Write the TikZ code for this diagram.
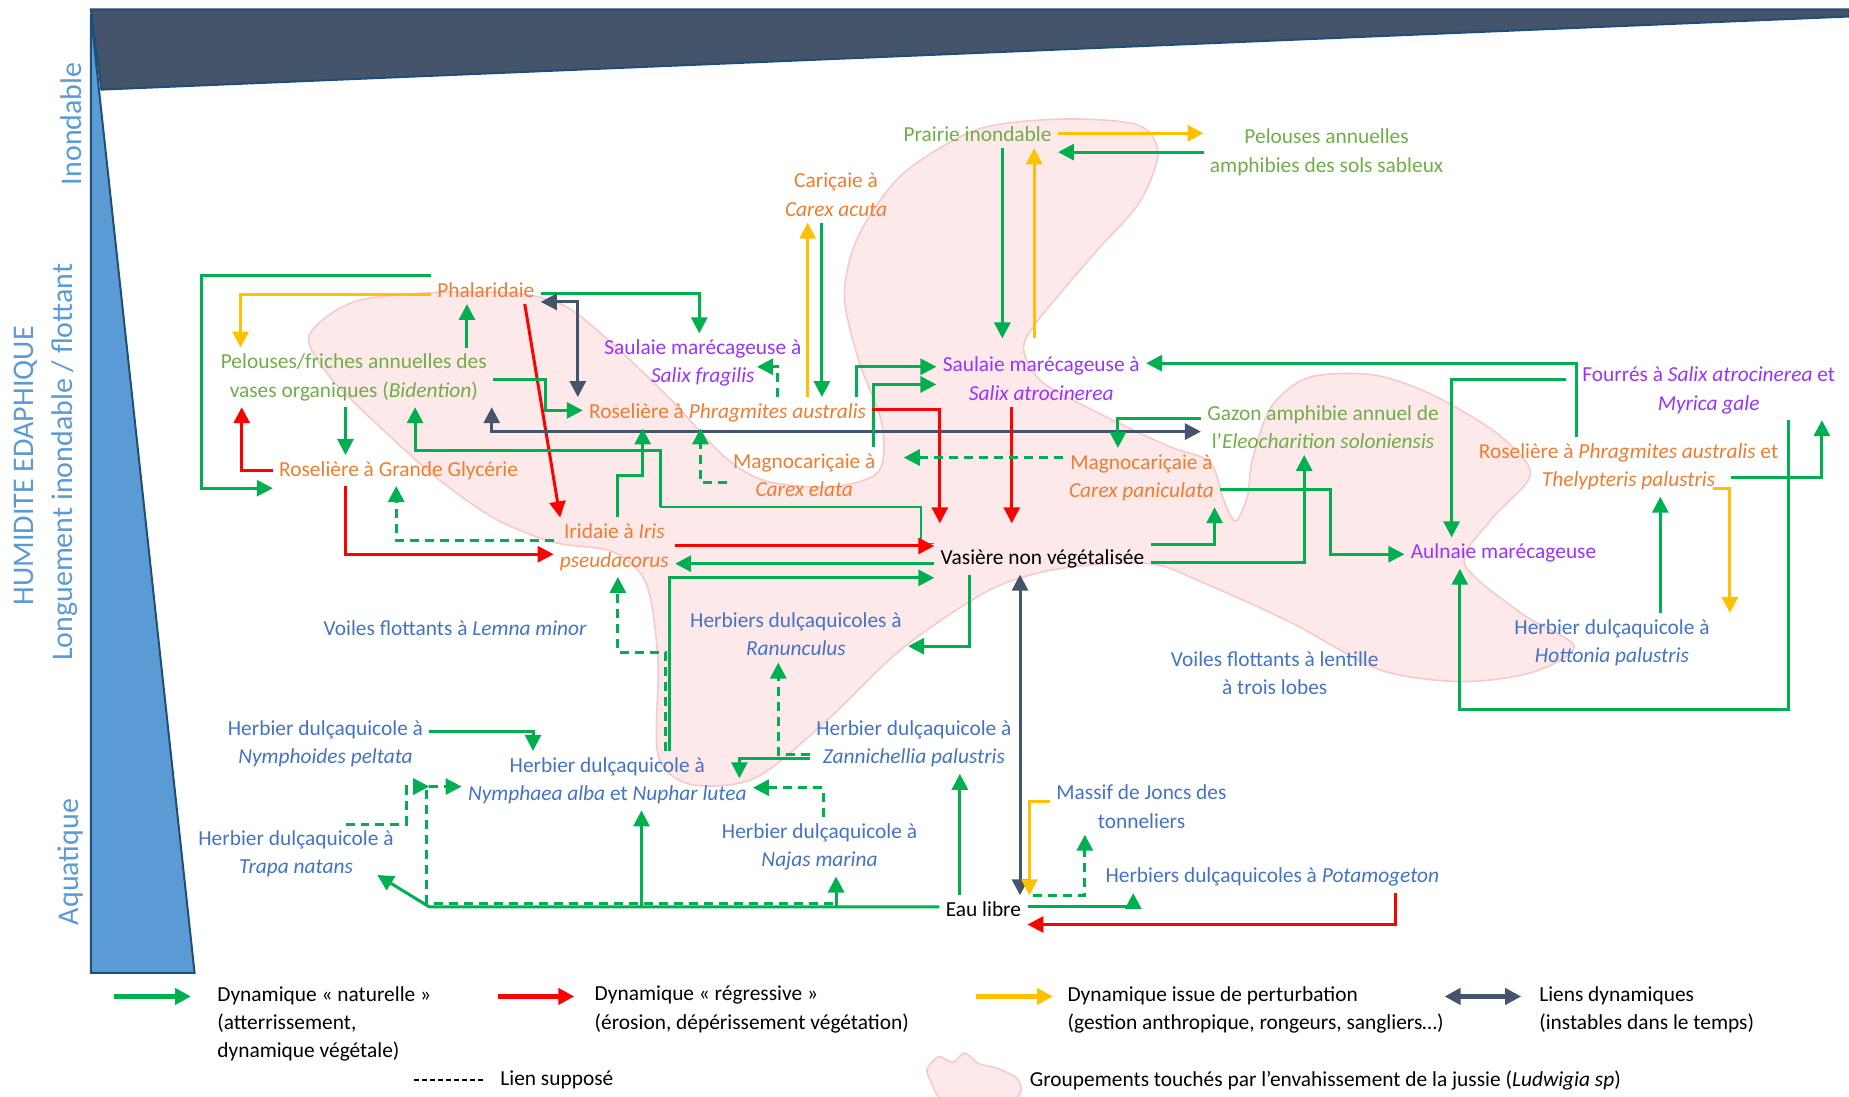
\documentclass[tikz,border=0pt]{standalone}
\usepackage{fontspec}
\setmainfont{Carlito}
\usetikzlibrary{arrows.meta}

\definecolor{cVert}{HTML}{00B050}
\definecolor{cRouge}{HTML}{FF0000}
\definecolor{cJaune}{HTML}{FFC000}
\definecolor{cGris}{HTML}{44546A}
\definecolor{cOr}{HTML}{ED7D31}
\definecolor{cVe}{HTML}{70AD47}
\definecolor{cVi}{HTML}{9933FF}
\definecolor{cBl}{HTML}{4472C4}
\definecolor{cAxe}{HTML}{5B9BD5}
\definecolor{cAxeBord}{HTML}{1F4E79}
\definecolor{cRose}{HTML}{FDE9E9}
\definecolor{cRoseBord}{HTML}{F7C9C9}

\begin{document}
\begin{tikzpicture}[x=0.59pt, y=-0.59pt, font=\fontsize{10.7}{14.2}\selectfont,
  grp/.style={align=center, inner sep=3pt},
  gOr/.style={grp, text=cOr},
  gVe/.style={grp, text=cVe},
  gVi/.style={grp, text=cVi},
  gBl/.style={grp, text=cBl},
  gNo/.style={grp, text=black},
  axetxt/.style={text=cAxe, rotate=90, font=\fontsize{15}{18}\selectfont},
  pointe/.style={-{Triangle[length=8pt,width=8pt]}},
  nat/.style={draw=cVert, line width=1.5pt, pointe},
  reg/.style={draw=cRouge, line width=1.5pt, pointe},
  pert/.style={draw=cJaune, line width=1.5pt, pointe},
  suppo/.style={draw=cVert, line width=1.5pt, dash pattern=on 4.5pt off 3pt, pointe},
  lien/.style={draw=cGris, line width=1.5pt, {Triangle[length=8pt,width=8pt]}-{Triangle[length=8pt,width=8pt]}},
  lgd/.style={anchor=north west, align=left, inner sep=0pt},
  big/.style={line width=2.2pt}]
\useasboundingbox (0,0) rectangle (1568,930);

% axes
\filldraw[fill=cAxe, draw=cAxeBord, line width=1pt] (77,12) -- (165,825) -- (77,825) -- cycle;
\filldraw[fill=cGris, draw=cAxeBord, line width=1pt] (77,8) -- (1568,8) -- (1568,14) -- (86,76) -- cycle;
\node[axetxt] (ino) at (60,105) {Inondable};
\node[axetxt] (lon) at (55,392) {Longuement inondable / flottant};
\node[axetxt] (hum) at (22,395) {HUMIDITE EDAPHIQUE};
\node[axetxt] (aqu) at (60,731) {Aquatique};

% zone jussie
\filldraw[fill=cRose, draw=cRoseBord, line width=0.8pt] plot[smooth cycle, tension=0.5] coordinates {
  (262,285) (300,256) (370,248) (440,249) (480,260) (520,292) (570,340) (615,388) (650,408)
  (705,413) (745,400) (748,360) (728,305) (716,250) (728,200) (765,148) (828,110) (900,101)
  (965,106) (982,130) (966,172) (928,215) (880,272) (868,296) (884,324) (935,352) (990,378)
  (1026,392) (1038,425) (1048,442) (1058,420) (1062,390) (1078,345) (1110,320) (1165,318)
  (1215,335) (1270,368) (1298,402) (1265,440) (1242,478) (1290,520) (1335,548) (1300,570)
  (1240,578) (1170,568) (1095,528) (1020,494) (975,478) (900,482) (840,500) (765,550)
  (700,612) (640,660) (585,665) (558,640) (558,560) (548,495) (520,468) (470,460) (420,440)
  (370,405) (320,360) (280,320)};

% groupements
\node[gVe] (prai) at (829,114) {Prairie inondable};
\node[gVe] (pas) at (1125,129) {Pelouses annuelles\\amphibies des sols sableux};
\node[gOr] (caa) at (709,165) {Cariçaie à\\\textit{Carex acuta}};
\node[gOr] (phal) at (412,246) {Phalaridaie};
\node[gVe] (bid) at (300,320) {Pelouses/friches annuelles des\\vases organiques (\textit{Bidention})};
\node[gVi] (sfr) at (596,308) {Saulaie marécageuse à\\\textit{Salix fragilis}};
\node[gOr] (rpa) at (617,350) {Roselière à \textit{Phragmites australis}};
\node[gVi] (sat) at (883,321) {Saulaie marécageuse à\\\textit{Salix atrocinerea}};
\node[gVi] (fou) at (1449,331) {Fourrés à \textit{Salix atrocinerea} et\\\textit{Myrica gale}};
\node[gVe] (gaz) at (1122,362) {Gazon amphibie annuel de\\l’\textit{Eleocharition soloniensis}};
\node[gOr] (rgg) at (338,399) {Roselière à Grande Glycérie};
\node[gOr] (mce) at (682,403) {Magnocariçaie à\\\textit{Carex elata}};
\node[gOr] (mcp) at (968,405) {Magnocariçaie à\\\textit{Carex paniculata}};
\node[gOr] (rth) at (1381,396) {Roselière à \textit{Phragmites australis} et\\\textit{Thelypteris palustris}};
\node[gOr] (iri) at (521,464) {Iridaie à \textit{Iris}\\\textit{pseudacorus}};
\node[gNo] (vas) at (884,474) {Vasière non végétalisée};
\node[gVi] (aul) at (1275,469) {Aulnaie marécageuse};
\node[gBl] (lem) at (386,533) {Voiles flottants à \textit{Lemna minor}};
\node[gBl] (ran) at (675,538) {Herbiers dulçaquicoles à\\\textit{Ranunculus}};
\node[gBl] (len) at (1081,571) {Voiles flottants à lentille\\à trois lobes};
\node[gBl] (hot) at (1367,545) {Herbier dulçaquicole à\\\textit{Hottonia palustris}};
\node[gBl] (nyd) at (276,631) {Herbier dulçaquicole à\\\textit{Nymphoides peltata}};
\node[gBl] (zan) at (775,631) {Herbier dulçaquicole à\\\textit{Zannichellia palustris}};
\node[gBl] (nym) at (515,662) {Herbier dulçaquicole à\\\textit{Nymphaea alba} et \textit{Nuphar lutea}};
\node[gBl] (jon) at (968,684) {Massif de Joncs des\\tonneliers};
\node[gBl] (tra) at (251,724) {Herbier dulçaquicole à\\\textit{Trapa natans}};
\node[gBl] (naj) at (695,718) {Herbier dulçaquicole à\\\textit{Najas marina}};
\node[gBl] (pot) at (1079,744) {Herbiers dulçaquicoles à \textit{Potamogeton}};
\node[gNo] (eau) at (834,771) {Eau libre};
\coordinate (j1) at (364,769);
\coordinate (j2) at (706,766);
\coordinate (k1) at (560,430);

% liens du haut
\draw[nat] (phal.west |- 0,234) -| (171,414) -- (rgg.west |- 0,414);
\draw[pert] (phal.west |- 0,250) -| (bid.north -| 204,0);
\draw[nat] (phal.east |- 0,249) -| (sfr.north -| 593,0);
\draw[lien] (phal.east |- 0,256) -| (rpa.north -| 490,0);
\draw[nat] (bid.north -| 396,0) -- (phal.south -| 396,0);
\draw[reg] (phal.south -| 445,0) -- (iri.north -| 475,0);
\draw[nat] (bid.east |- 0,322) -| (463,348) -- (rpa.west |- 0,348);
\draw[lien] (gaz.west |- 0,366) -| (bid.south -| 417,0);
\draw[nat] (bid.south -| 293,0) -- (rgg.north -| 293,0);
\draw[reg] (rgg.west) -| (bid.south -| 205,0);
\draw[cVert, line width=0.6pt] (vas.north west) -| (781,430) -- (k1);
\draw[nat] (k1) |- (352,382) -- (bid.south -| 352,0);
\draw[nat] (iri.north -| 524,0) |- (545,403) -- (rpa.south -| 545,0);
\draw[suppo] (mce.west |- 0,409) -| (rpa.south -| 594,0);
\draw[suppo] (rpa.north -| 659,0) |- ([shift={(46,3)}]sfr.center);
\draw[pert] (rpa.north -| 685,0) -- (caa.south -| 685,0);
\draw[nat] (caa.south -| 697,0) -- (rpa.north -| 697,0);
\draw[nat] (rpa.north -| 726,0) |- (sat.west |- 0,311);
\draw[nat] (mce.north -| 741,0) |- (sat.west |- 0,326);
\draw[reg, shorten >=10pt] (rpa.east |- 0,347) -| (vas.north -| 797,0);
\draw[reg, shorten >=10pt] (sat.south -| 858,0) -- (vas.north -| 858,0);
\draw[nat, shorten >=6pt] (prai.south -| 850,0) -- (sat.north -| 850,0);
\draw[pert, shorten <=6pt] (sat.north -| 877,0) -- (prai.south -| 877,0);
\draw[pert] (prai.east |- 0,113) -- (pas.west |- 0,113);
\draw[nat] (pas.west |- 0,129) -- (prai.east |- 0,129);

% liens de droite
\draw[nat] (rth.north -| 1337,0) |- (sat.east |- 0,308);
\draw[nat, shorten <=5pt] (fou.west |- 0,322) -| (aul.north -| 1231,0);
\draw[nat] (gaz.west |- 0,355) -| (mcp.north -| 948,0);
\draw[suppo, shorten >=11pt] (mcp.west |- 0,388) -- (mce.east |- 0,388);
\draw[nat] (mcp.east |- 0,415) -| (1128,470) -- (aul.west |- 0,470);
\draw[nat] (vas.east |- 0,462) -| (mcp.south -| 1030,0);
\draw[nat] (vas.east |- 0,477) -| (gaz.south -| 1106,0);
\draw[nat] ([shift={(87,9)}]rth.center) -| (fou.south -| 1545,0);
\draw[pert] ([shift={(72,18)}]rth.center) -| (hot.north -| 1467,0);
\draw[nat] (hot.north -| 1408,0) -- (rth.south -| 1408,0);
\draw[nat] (fou.south -| 1517,0) |- (1238,602) -- (aul.south -| 1238,0);

% liens du milieu
\draw[reg] (rgg.south -| 293,0) |- (iri.west |- 0,470);
\draw[suppo] (iri.west |- 0,458) -| (rgg.south -| 336,0);
\draw[reg] (iri.east |- 0,463) -- (vas.west |- 0,463);
\draw[nat] (vas.west |- 0,478) -- (iri.east |- 0,478);
\draw[nat] (nym.north -| 568,0) |- (vas.west |- 0,490);
\draw[suppo] (nym.north -| 564,0) |- (524,553) -- (iri.south -| 524,0);
\draw[nat] (vas.south -| 822,0) |- (ran.east |- 0,548);
\draw[lien] (vas.south -| 865,0) -- (eau.north -| 865,0);

% liens du bas
\draw[suppo] (zan.west |- 0,640) -| (ran.south -| 660,0);
\draw[nat] (zan.west |- 0,643) -| ([shift={(112,-2)}]nym.center);
\draw[suppo] (naj.north -| 698,0) |- (nym.east |- 0,668);
\draw[nat] (eau.west |- 0,769) -- (j1) -- ([shift={(69,18)}]tra.center);
\draw[nat] (j1 -| 544,0) -- (nym.south -| 544,0);
\draw[nat] (j1 -| 709,0) -- (naj.south -| 709,0);
\draw[nat] (eau.north -| 814,0) -- (zan.south -| 814,0);
\draw[suppo] (j2) -- (j2 -| 362,0) |- (nym.west |- 0,667);
\draw[suppo] (tra.north -| 293,0) -| (345,667) -- (j1 |- 0,667);
\draw[nat] (nyd.east |- 0,620) -| (nym.north -| 452,0);
\draw[pert] (jon.west |- 0,680) -| (eau.north -| 873,0);
\draw[suppo] (eau.north -| 876,0) -| (jon.south -| 920,0);
\draw[nat] (eau.east |- 0,769) -| (pot.south -| 961,0);
\draw[reg] (pot.south -| 1183,0) |- (eau.east |- 0,784);

% legende
\node[lgd] (lg1) at (184,836) {Dynamique « naturelle »\\(atterrissement,\\dynamique végétale)};
\node[lgd] (lg2) at (504,836) {Dynamique « régressive »\\(érosion, dépérissement végétation)};
\node[lgd] (lg3) at (905,836) {Dynamique issue de perturbation\\(gestion anthropique, rongeurs, sangliers…)};
\node[lgd] (lg4) at (1305,836) {Liens dynamiques\\(instables dans le temps)};
\node[anchor=west, inner sep=0pt] (lg5) at (424,916) {Lien supposé};
\node[anchor=west, inner sep=0pt] (lg6) at (873,916) {Groupements touchés par l’envahissement de la jussie (\textit{Ludwigia sp})};
\draw[nat, big] (lg1.north west) ++(-87,9) -- ++(65,0);
\draw[reg, big] (lg2.north west) ++(-82,9) -- ++(65,0);
\draw[pert, big] (lg3.north west) ++(-77,9) -- ++(65,0);
\draw[lien, big] (lg4.north west) ++(-80,9) -- ++(65,0);
\draw[black, line width=0.8pt, dash pattern=on 2.5pt off 1.5pt] (lg5.west) ++(-73,0) -- ++(59,0);
\filldraw[fill=cRose, draw=cRoseBord, line width=0.8pt] plot[smooth cycle, tension=0.4] coordinates {
  (786,907) (796,896) (808,901) (818,893) (830,902) (846,906) (862,914) (866,924) (858,932)
  (800,932) (790,918)};
\end{tikzpicture}
\end{document}
